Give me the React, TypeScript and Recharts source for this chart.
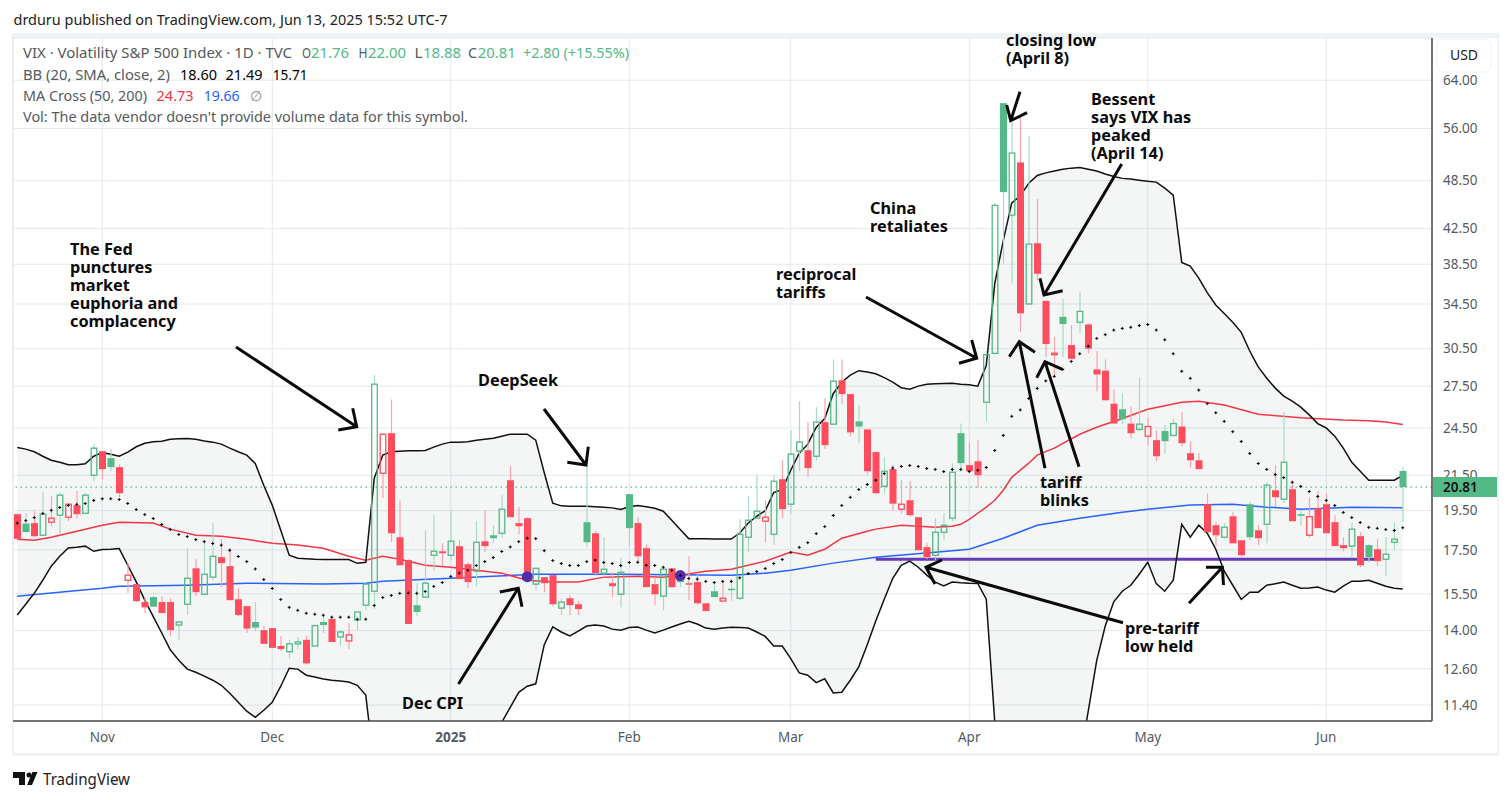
import {
  Area,
  Bar,
  CartesianGrid,
  ComposedChart,
  Line,
  ReferenceDot,
  ReferenceLine,
  XAxis,
  YAxis,
} from 'recharts'

const GREEN = '#53b987'
const RED = '#ff4d5e'
const GREEN_WICK = '#a6dcbf'
const RED_WICK = '#f9a3ad'
const TEXT = '#555a60'
const FONT = '"Noto Sans", sans-serif'

const priceTicks = [64, 56, 48.5, 42.5, 38.5, 34.5, 30.5, 27.5, 24.5, 21.5, 19.5, 17.5, 15.5, 14, 12.6, 11.4]
const monthTicks = [10, 30, 51, 72, 91, 112, 133, 154]
const monthLabels = ['Nov', 'Dec', '2025', 'Feb', 'Mar', 'Apr', 'May', 'Jun']

const firstPrevClose = 19.4
const lastClose = 20.81
const tariffLow = 17.05

const opens = [
  19.31, 18.82, 18.84, 18.22, 18.89, 19.26, 19.15, 19.8, 19.36, 21.5, 22.98, 22.54, 21.99, 16.09, 15.92, 15.15, 15.36, 15.15, 15.15, 14.22,
  15.06, 16.63, 15.48, 16.23, 17.15, 16.73, 15.27, 14.98, 14.34, 14.02, 14.1, 13.42, 13.21, 13.5, 13.65, 13.42, 14.34, 14.46, 13.76, 13.61,
  14.42, 15.02, 15.61, 21.62, 24.15, 18.12, 17.01, 15.02, 15.36, 17.24, 17.43, 17.24, 17.68, 16.82, 16.5, 17.92, 18.22, 18.32, 21.21, 18.84,
  19.1, 15.92, 16.23, 16.32, 14.9, 15.31, 15.06, 18.89, 18.32, 16.41, 15.96, 15.48, 20.41, 18.84, 17.58, 15.92, 15.4, 16.63, 16.18, 15.96,
  16.01, 15.1, 15.61, 15.19, 15.72, 15.31, 18.12, 19.1, 18.94, 18.27, 21.27, 19.85, 22.98, 23.04, 22.66, 24.9, 24.76, 27.95, 26.9, 24.95,
  24.4, 22.92, 20.86, 21.87, 19.58, 20.07, 19.15, 17.63, 17.24, 18.37, 19.1, 24.15, 22.11, 22.35, 26.3, 30.1, 60.06, 44.1, 51, 34.5,
  40.8, 34.8, 30.1, 33.3, 30.8, 32.8, 32.6, 28.8, 28.7, 26.2, 25.8, 24.8, 24.4, 23.95, 23.69, 24.3, 24, 24.6, 22.85, 22.41,
  19.85, 18.73, 18.12, 19.2, 17.97, 19.85, 18.47, 18.78, 20.63, 20.13, 20.69, 19.31, 18.22, 19.63, 19.85, 18.89, 17.73, 17.68, 18.17, 17.73,
  17.53, 17.05, 17.87, 21.76,
]
const highs = [
  19.36, 19.36, 19.47, 20.52, 20.3, 20.52, 19.91, 20.58, 20.46, 23.43, 22.98, 23.11, 22.17, 16.87, 15.92, 15.36, 15.4, 15.4, 15.31, 14.38,
  17.58, 17.05, 17.97, 18.84, 18.02, 17.58, 15.74, 14.98, 15.15, 14.18, 14.1, 13.8, 13.65, 13.76, 13.8, 14.22, 14.58, 14.46, 14.02, 14.3,
  14.74, 15.96, 28.35, 24.15, 26.5, 20.07, 17.05, 15.96, 18.47, 19.26, 17.82, 19.52, 17.97, 16.91, 18.94, 19.52, 18.73, 20.35, 22.05, 19.69,
  19.15, 16.63, 16.23, 16.32, 15.31, 15.44, 15.19, 22.11, 18.42, 18.12, 16.45, 17.15, 20.41, 19.15, 17.77, 16.23, 16.59, 16.63, 16.45, 17.19,
  16.41, 15.1, 15.96, 16.01, 16.14, 19.04, 20.3, 21.5, 20.07, 21.5, 22.41, 24.35, 26.38, 24.9, 25.95, 26.6, 29.6, 29.6, 26.9, 26.1,
  24.4, 22.98, 22.6, 22.11, 21.21, 21.15, 19.15, 17.82, 19.1, 19.36, 22.23, 24.8, 23.56, 23.69, 30.3, 45.6, 60.13, 57, 57.8, 54.8,
  46.1, 34.8, 31.5, 35, 32.55, 35.7, 32.7, 30.3, 29.6, 27.27, 26.95, 26, 28.15, 25.2, 24.35, 24.7, 25.15, 25.6, 23.62, 22.85,
  20.46, 18.89, 18.84, 19.42, 17.97, 19.96, 18.73, 21.09, 22.11, 25.6, 21.03, 19.47, 20.24, 20.58, 20.46, 19.26, 18.12, 18.84, 18.37, 17.77,
  18.02, 18.12, 18.89, 22,
]
const lows = [
  18.02, 18.37, 18.12, 18.22, 18.68, 18.27, 18.94, 19.1, 19.36, 21.15, 21.27, 21.74, 20.24, 15.53, 15.15, 14.7, 14.94, 14.7, 13.8, 13.65,
  14.62, 15.4, 15.44, 16.09, 15.79, 15.23, 14.58, 13.91, 13.98, 13.5, 13.35, 13.24, 12.96, 13.31, 12.75, 13.42, 13.91, 13.57, 13.42, 13.31,
  14.02, 14.82, 14.86, 20.19, 17.87, 16.77, 14.26, 14.58, 15.31, 16.5, 16.73, 17.01, 16.14, 15.74, 15.83, 17.39, 17.82, 18.07, 19.15, 18.27,
  16.01, 15.66, 15.57, 14.98, 14.62, 14.62, 14.62, 17.63, 16.27, 16.23, 15.36, 14.94, 17.68, 16.87, 15.79, 15.02, 14.82, 15.74, 15.79, 15.23,
  15.02, 14.78, 15.36, 15.19, 15.19, 15.23, 17.39, 19.1, 17.87, 17.73, 19.1, 19.36, 21.74, 21.38, 22.41, 23.11, 24.76, 26.2, 23.95, 23.49,
  21.56, 20.41, 20.46, 19.47, 19.36, 19.2, 17.48, 17.05, 17.01, 17.97, 18.94, 21.74, 21.68, 20.75, 24.96, 30.1, 38.6, 36.5, 31.9, 34.5,
  36.8, 29.8, 28.15, 29.8, 29.6, 31.8, 30.1, 27.1, 26.38, 24.8, 24.76, 23.82, 24.3, 23.37, 22.35, 22.85, 24, 23.3, 21.93, 21.87,
  18.37, 17.68, 18.12, 17.82, 17.19, 17.97, 17.73, 17.82, 19.69, 19.91, 18.94, 18.73, 18.12, 18.58, 18.32, 17.68, 17.43, 17.1, 16.68, 16.91,
  16.73, 16.27, 17.48, 18.88,
]
const closes = [
  18.04, 18.38, 18.17, 19.31, 19.1, 20.35, 19.85, 19.31, 20.35, 23.17, 21.87, 21.99, 20.46, 16.32, 15.19, 14.93, 14.96, 14.7, 14.02, 14.34,
  16.18, 15.57, 16.36, 17.19, 16.87, 15.23, 14.62, 14.08, 14.12, 13.5, 13.35, 13.31, 13.5, 13.57, 12.79, 14.2, 14.22, 13.57, 13.95, 13.84,
  14.74, 15.92, 27.65, 24.08, 18.32, 16.77, 14.26, 14.74, 15.96, 17.43, 17.34, 17.92, 16.14, 16.01, 17.87, 17.68, 18.07, 19.58, 19.15, 18.68,
  16.09, 16.63, 15.96, 15.06, 15.15, 15.02, 14.86, 17.87, 16.41, 16.59, 15.83, 16.45, 18.58, 17.19, 15.79, 15.48, 16.59, 15.79, 16.01, 15.92,
  15.1, 14.78, 15.36, 15.31, 15.68, 18.27, 18.99, 19.47, 19.15, 21.15, 19.58, 22.79, 23.56, 21.93, 24.9, 23.37, 27.88, 26.9, 24.2, 24.6,
  21.74, 20.46, 21.74, 19.88, 19.85, 19.26, 17.48, 17.15, 18.37, 18.73, 21.68, 22.23, 21.74, 21.5, 30, 45.3, 46.98, 52.33, 33.62, 40.7,
  37.5, 30.89, 30.12, 32.64, 29.65, 33.8, 30.5, 28.4, 26.45, 24.8, 25.1, 24.15, 24.76, 24.6, 22.66, 23.62, 24.8, 23.49, 22.41, 21.87,
  18.37, 18.22, 18.63, 17.82, 17.24, 18.12, 18.07, 20.92, 20.24, 22.29, 18.94, 19.22, 19.18, 18.58, 18.32, 17.68, 17.58, 18.53, 16.77, 17.15,
  16.96, 17.29, 18.02, 20.81,
]

const bbUpper = [
  23.22, 23.11, 22.94, 22.66, 22.41, 22.29, 22.13, 22.14, 22.19, 22.66, 22.9, 22.79, 22.66, 22.92, 23.26, 23.49, 23.58, 23.62, 23.75, 23.78,
  23.8, 23.75, 23.64, 23.56, 23.43, 23.17, 22.94, 22.73, 22.21, 20.92, 19.8, 18.47, 17.24, 17.1, 17.08, 17.05, 17.04, 17.04, 17.04, 17.04,
  16.86, 16.91, 21.33, 22.73, 22.94, 22.98, 23, 23.01, 23.02, 23.24, 23.43, 23.56, 23.56, 23.58, 23.69, 23.75, 23.82, 23.95, 24.08, 24.08,
  24.08, 23.69, 21.65, 19.91, 19.76, 19.74, 19.74, 19.74, 19.71, 19.69, 19.65, 19.56, 19.71, 19.78, 19.71, 19.63, 19.47, 18.99, 18.51, 18.05,
  18.04, 18.04, 18.03, 18.03, 18.03, 18.33, 18.85, 19.2, 19.5, 20.5, 20.68, 21.8, 22.85, 23.43, 24.55, 25.15, 26.95, 27.8, 28.35, 28.7,
  28.6, 28.45, 28.15, 27.8, 27.38, 27.27, 27.5, 27.65, 27.68, 27.7, 27.72, 27.65, 27.6, 27.5, 29.1, 36.5, 41.1, 45.6, 46.5, 48.15,
  49.2, 49.55, 49.8, 50.05, 50.2, 50.3, 50.05, 49.8, 49.4, 49.05, 48.8, 48.7, 48.56, 48.4, 48.3, 47.5, 46.6, 38.7, 38.3, 37.05,
  35.6, 34.4, 33.6, 32.8, 31.9, 30.3, 29, 28.1, 27.35, 26.75, 26.38, 25.95, 25.4, 24.8, 24.5, 23.95, 23.17, 22.29, 21.74, 21.21,
  21.21, 21.21, 21.21, 21.49,
]
const bbLower = [
  14.62, 15.06, 15.52, 16.09, 16.73, 17.19, 17.59, 17.63, 17.68, 17.43, 17.52, 17.53, 17.56, 16.77, 16.02, 15.23, 14.55, 13.91, 13.28, 12.9,
  12.59, 12.48, 12.35, 12.21, 12.04, 11.78, 11.49, 11.21, 11.02, 11.24, 11.49, 12.01, 12.62, 12.59, 12.38, 12.32, 12.25, 12.21, 12.18, 12.15,
  12.04, 11.72, 9.6, 9, 8.8, 8.7, 8.5, 8.4, 8.5, 8.7, 9, 9.2, 9.5, 9.8, 10, 10.2, 10.4, 10.87, 11.33, 11.81,
  12.01, 12.09, 13.47, 14.15, 13.95, 13.8, 13.98, 14.18, 14.22, 14.18, 14.06, 14.02, 14.12, 14.14, 14.02, 13.91, 14.02, 14.14, 14.26, 14.37,
  14.26, 14.1, 14.06, 14.1, 14.13, 14.12, 14.1, 13.95, 13.78, 13.42, 13.42, 12.96, 12.46, 12.38, 12.13, 12.26, 11.79, 11.81, 12.21, 12.67,
  13.47, 14.38, 15.27, 16.18, 16.77, 16.96, 16.68, 16.32, 16.01, 15.84, 16.01, 15.98, 15.96, 15.95, 15.27, 10.88, 8.6, 7.6, 7, 6.6,
  6.2, 6, 6, 6.2, 7, 9.8, 11.21, 12.9, 14.18, 15.16, 15.61, 15.87, 16.36, 16.91, 15.94, 15.61, 16.09, 18.78, 18.12, 18.73,
  18.32, 17.53, 16.5, 15.87, 15.26, 15.57, 15.57, 15.87, 15.94, 16.01, 15.87, 15.74, 15.75, 15.79, 15.66, 15.57, 15.83, 16.05, 16.05, 16.09,
  15.96, 15.83, 15.74, 15.71,
]
const bbBasis = [
  18.84, 18.97, 19.13, 19.35, 19.52, 19.67, 19.78, 19.84, 19.89, 20.06, 20.15, 20.15, 20.11, 19.89, 19.56, 19.29, 19.08, 18.77, 18.51, 18.26,
  18.15, 18, 17.9, 17.81, 17.73, 17.48, 17.18, 16.94, 16.6, 16.12, 15.73, 15.26, 14.93, 14.81, 14.69, 14.65, 14.61, 14.53, 14.53, 14.53,
  14.45, 14.45, 15.01, 15.34, 15.43, 15.52, 15.53, 15.52, 15.6, 15.82, 15.99, 16.26, 16.41, 16.54, 16.76, 16.94, 17.13, 17.42, 17.64, 17.9,
  18.07, 18.05, 17.46, 16.99, 16.85, 16.76, 16.76, 16.94, 17.01, 16.9, 16.85, 16.76, 16.9, 16.91, 16.77, 16.76, 16.68, 16.54, 16.3, 16.17,
  16.14, 16.04, 15.99, 16.04, 16.04, 16.2, 16.39, 16.48, 16.62, 16.85, 17.04, 17.37, 17.62, 17.85, 18.3, 18.66, 19.24, 19.78, 20.23, 20.67,
  20.96, 21.21, 21.6, 21.93, 22.03, 22.09, 22.03, 21.91, 21.85, 21.72, 21.85, 21.85, 21.72, 21.8, 21.97, 23.02, 24, 25.3, 25.75, 26.58,
  27.33, 27.9, 28.25, 28.8, 29.44, 30.07, 30.7, 31.37, 31.7, 32.1, 32.25, 32.35, 32.5, 32.6, 32.1, 31.25, 30.07, 28.65, 28.1, 27.2,
  26.2, 25.55, 24.95, 24.25, 23.6, 22.83, 22.21, 21.85, 21.54, 21.36, 21.09, 20.85, 20.56, 20.28, 20.06, 19.78, 19.4, 19.13, 18.87, 18.62,
  18.57, 18.51, 18.46, 18.6,
]

const ma50Index = [
  0, 2, 4, 7, 10, 12, 16, 18, 21, 24, 27, 30, 33, 36, 39, 41, 43, 45, 48, 51, 56, 57, 60, 63, 66, 69, 73, 76, 78, 81, 84, 88, 91, 93, 95, 97,
  100, 101, 104, 106, 108, 110, 111, 112, 113, 114, 115, 116, 117, 119, 120, 122, 125, 127, 130, 133, 137, 139, 142, 146, 147, 151, 156, 159, 161, 163,
]
const ma50Values = [
  18.02, 17.97, 18.12, 18.42, 18.73, 18.89, 18.84, 18.53, 18.22, 18.17, 18.02, 17.82, 17.73, 17.58, 17.19, 17.01, 17.19, 17.05, 16.77, 16.68, 16.45, 16.41, 16.09, 16.01, 16.01, 16.23, 16.27, 16.23, 16.32, 16.5, 16.59, 16.96, 17.39, 17.24, 17.53, 18.07,
  18.42, 18.53, 18.73, 18.68, 18.63, 18.68, 18.78, 19.04, 19.36, 19.69, 20.07, 20.63, 21.38, 22.23, 22.73, 23.17, 24.08, 24.55, 25.15, 25.8, 26.3, 26.38, 26.1, 25.45, 25.4, 25.2, 25.05, 25, 24.9, 24.73,
]
const ma200Index = [0, 4, 10, 12, 20, 27, 36, 41, 43, 51, 56, 61, 71, 84, 88, 91, 96, 101, 108, 112, 116, 120, 125, 130, 133, 138, 143, 147, 151, 157, 163]
const ma200Values = [15.4, 15.53, 15.74, 15.83, 15.87, 15.96, 15.92, 15.96, 16.05, 16.18, 16.27, 16.36, 16.36, 16.32, 16.41, 16.54, 16.87, 17.15, 17.39, 17.53, 18.07, 18.73, 19.1, 19.42, 19.58, 19.8, 19.85, 19.69, 19.58, 19.69, 19.66]

const crossIndex = [60, 78]
const crossValues = [16.25, 16.3]

const data = closes.map((close, idx) => {
  const ma50At = ma50Index.indexOf(idx)
  const ma200At = ma200Index.indexOf(idx)
  return {
    idx,
    open: opens[idx],
    high: highs[idx],
    low: lows[idx],
    close,
    prevClose: idx === 0 ? firstPrevClose : closes[idx - 1],
    range: [lows[idx], highs[idx]],
    band: [bbLower[idx], bbUpper[idx]],
    upper: bbUpper[idx],
    lower: bbLower[idx],
    basis: bbBasis[idx],
    ma50: ma50At >= 0 ? ma50Values[ma50At] : null,
    ma200: ma200At >= 0 ? ma200Values[ma200At] : null,
  }
})

// hollow candle style: colour follows the previous close, fill follows the open
function Candle(props: any) {
  const { x, y, width, height, payload } = props
  const { open, close, high, low, prevClose } = payload
  const span = Math.log(high / low) || 1
  const toY = (v: number) => y + (height * Math.log(high / v)) / span
  const up = close > prevClose
  const hollow = close > open
  const color = up ? GREEN : RED
  const wick = up ? GREEN_WICK : RED_WICK
  const cx = x + width / 2
  const top = toY(Math.max(open, close))
  const bottom = Math.max(toY(Math.min(open, close)), top + 1.5)
  return (
    <g>
      <line x1={cx} x2={cx} y1={y} y2={top} stroke={wick} strokeWidth={1.2} />
      <line x1={cx} x2={cx} y1={bottom} y2={y + height} stroke={wick} strokeWidth={1.2} />
      {hollow ? (
        <rect x={x + 0.7} y={top} width={width - 1.4} height={bottom - top} fill="none" stroke={color} strokeWidth={1.3} />
      ) : (
        <rect x={x} y={top} width={width} height={bottom - top} fill={color} />
      )}
    </g>
  )
}

function BasisCross(props: any) {
  const { cx, cy, index } = props
  return <path key={index} d={`M${cx - 1.5} ${cy}H${cx + 1.5}M${cx} ${cy - 1.5}V${cy + 1.5}`} stroke="#000" strokeWidth={1} fill="none" />
}

function MonthTick(props: any) {
  const { x, y, payload } = props
  const label = monthLabels[monthTicks.indexOf(payload.value)]
  return (
    <text x={x} y={y + 13} textAnchor="middle" fontFamily={FONT} fontSize={13.5} fontWeight={label === '2025' ? 700 : 400} fill={TEXT}>
      {label}
    </text>
  )
}

const notes = [
  { x: 70, y: 255, lines: ['The Fed', 'punctures', 'market', 'euphoria and', 'complacency'] },
  { x: 478, y: 386, lines: ['DeepSeek'] },
  { x: 402, y: 709, lines: ['Dec CPI'] },
  { x: 776, y: 280, lines: ['reciprocal', 'tariffs'] },
  { x: 870, y: 214, lines: ['China', 'retaliates'] },
  { x: 1006, y: 46, lines: ['closing low', '(April 8)'] },
  { x: 1091, y: 105, lines: ['Bessent', 'says VIX has', 'peaked', '(April 14)'] },
  { x: 1040, y: 488, lines: ['tariff', 'blinks'] },
  { x: 1125, y: 634, lines: ['pre-tariff', 'low held'] },
]

const arrows = [
  'M236 347L356.7 426.7M352.7 408.3L356.7 426.7L338.3 430',
  'M544 409L586 465M588.3 446.7L586 465L567.3 462.3',
  'M458.5 684L518.3 588.3M499.8 592L518.3 588.3L522 606.7',
  'M866 297L976.7 358.3M959 363.3L976.7 358.3L971.7 340',
  'M1020 91.7L1010.7 120.7M1006.7 105L1010.7 120.7L1027 112.7',
  'M1121.7 164L1044 295M1040 278.3L1044 295L1062.7 290.7',
  'M1045 468.3L1019.3 341.7M1009.3 356.7L1019.3 341.7L1035 352.3',
  'M1079 466.7L1045 361.7M1036.7 377.7L1045 361.7L1062.3 369.3',
  'M1123 622.7L926 567.3M935 584L926 567.3L941.9 560',
  'M1189 603.3L1222.4 567.3M1206 567.3L1222.4 567.3L1223.5 585',
]

const legendRows = [
  [
    { x: 23, w: 269, c: TEXT, t: 'VIX · Volatility S&P 500 Index · 1D · TVC' },
    { x: 302, w: 9, c: TEXT, t: 'O' },
    { x: 311, w: 38, c: GREEN, t: '21.76' },
    { x: 358.6, w: 9, c: TEXT, t: 'H' },
    { x: 368, w: 38, c: GREEN, t: '22.00' },
    { x: 414.6, w: 8, c: TEXT, t: 'L' },
    { x: 423, w: 38, c: GREEN, t: '18.88' },
    { x: 468, w: 9, c: TEXT, t: 'C' },
    { x: 477.7, w: 38, c: GREEN, t: '20.81' },
    { x: 523, w: 106, c: GREEN, t: '+2.80 (+15.55%)' },
  ],
  [
    { x: 23, w: 147, c: TEXT, t: 'BB (20, SMA, close, 2)' },
    { x: 180, w: 37, c: '#000', t: '18.60' },
    { x: 225.6, w: 37, c: '#000', t: '21.49' },
    { x: 272.7, w: 35, c: '#000', t: '15.71' },
  ],
  [
    { x: 23, w: 124, c: TEXT, t: 'MA Cross (50, 200)' },
    { x: 156.6, w: 37, c: '#f23645', t: '24.73' },
    { x: 203.7, w: 36, c: '#2962ff', t: '19.66' },
    { x: 250, w: 12, c: '#8a8e94', t: '∅' },
  ],
  [{ x: 23, w: 445, c: TEXT, t: "Vol: The data vendor doesn't provide volume data for this symbol." }],
]
const legendY = [58, 80, 101, 122]

export default function App() {
  return (
    <div style={{ position: 'absolute', left: 0, top: 0, width: 1510, height: 800, background: '#fff', overflow: 'hidden' }}>
      <div
        style={{
          position: 'absolute',
          left: 12,
          top: 33,
          width: 1487,
          height: 723,
          boxSizing: 'border-box',
          borderStyle: 'solid',
          borderColor: '#f0f3f6',
          borderWidth: '5px 2px 3px 2px',
        }}
      />
      <div style={{ position: 'absolute', left: 0, top: 0 }}>
        <ComposedChart width={1510} height={800} data={data} margin={{ top: 38, right: 13, bottom: 49, left: 13 }}>
          <CartesianGrid stroke="#e3e9f0" strokeWidth={1} />
          <XAxis
            dataKey="idx"
            type="category"
            ticks={monthTicks}
            interval={0}
            padding={{ left: 0, right: 25 }}
            height={30}
            tick={<MonthTick />}
            tickLine={false}
            axisLine={{ stroke: '#4a4a4a', strokeWidth: 1.5 }}
          />
          <YAxis
            orientation="right"
            scale="log"
            domain={[10.91, 71.9]}
            allowDataOverflow
            ticks={priceTicks}
            interval={0}
            width={65}
            tickLine={false}
            tickMargin={5}
            tick={{ fontFamily: FONT, fontSize: 13.5, fill: TEXT }}
            tickFormatter={(v: number) => v.toFixed(2)}
            axisLine={{ stroke: '#4a4a4a', strokeWidth: 1.5 }}
          />
          <Area dataKey="band" stroke="none" fill="#708080" fillOpacity={0.08} isAnimationActive={false} />
          <ReferenceLine y={lastClose} stroke={GREEN} strokeWidth={1.3} strokeDasharray="1.5 3.5" />
          {crossIndex.map((x, i) => (
            <ReferenceDot key={x} x={x} y={crossValues[i]} r={5.5} fill="#512da8" stroke="none" />
          ))}
          <ReferenceLine
            segment={[
              { x: 101, y: tariffLow },
              { x: 160, y: tariffLow },
            ]}
            stroke="#673ab7"
            strokeWidth={3}
          />
          <Line dataKey="ma200" stroke="#2962ff" strokeWidth={1.5} dot={false} connectNulls isAnimationActive={false} />
          <Line dataKey="ma50" stroke="#f23645" strokeWidth={1.5} dot={false} connectNulls isAnimationActive={false} />
          <Line dataKey="upper" stroke="#111" strokeWidth={1.5} dot={false} isAnimationActive={false} />
          <Line dataKey="lower" stroke="#111" strokeWidth={1.5} dot={false} isAnimationActive={false} />
          <Line dataKey="basis" stroke="none" dot={<BasisCross />} activeDot={false} isAnimationActive={false} />
          <Bar dataKey="range" barSize={7} shape={<Candle />} isAnimationActive={false} zIndex={500} />
        </ComposedChart>
      </div>
      <svg width={1510} height={800} style={{ position: 'absolute', left: 0, top: 0, pointerEvents: 'none' }}>
        <text x={13.5} y={25} fontFamily={FONT} fontSize={14.5} fill="#222" textLength={434} lengthAdjust="spacingAndGlyphs">
          drduru published on TradingView.com, Jun 13, 2025 15:52 UTC-7
        </text>
        {legendRows.map((row, r) =>
          row.map((item) => (
            <text key={`${r}-${item.x}`} x={item.x} y={legendY[r]} fontFamily={FONT} fontSize={14} fill={item.c} textLength={item.w} lengthAdjust="spacingAndGlyphs">
              {item.t}
            </text>
          )),
        )}
        <rect x={1437} y={39} width={54} height={33} rx={6} fill="#fff" stroke="#eef1f4" />
        <text x={1464} y={60} textAnchor="middle" fontFamily={FONT} fontSize={14} fill="#222">
          USD
        </text>
        <rect x={1433} y={477} width={64} height={20} fill={GREEN} />
        <text x={1443} y={492} fontFamily={FONT} fontSize={13.5} fontWeight={600} fill="#111">
          20.81
        </text>
        {arrows.map((d) => (
          <path key={d} d={d} fill="none" stroke="#0b0b0b" strokeWidth={3} />
        ))}
        {notes.map((note) =>
          note.lines.map((line, i) => (
            <text key={line} x={note.x} y={note.y + i * 17.9} fontFamily={FONT} fontSize={16.3} fontWeight={700} fill="#0b0b0b">
              {line}
            </text>
          )),
        )}
        <path d="M13 772H25V785H19V778H13ZM27 785L32.5 772H37.5L32 785Z" fill="#111" />
        <circle cx={29} cy={775} r={2.5} fill="#111" />
        <text x={43} y={785} fontFamily={FONT} fontSize={16} fill="#222" textLength={87} lengthAdjust="spacingAndGlyphs">
          TradingView
        </text>
      </svg>
    </div>
  )
}
